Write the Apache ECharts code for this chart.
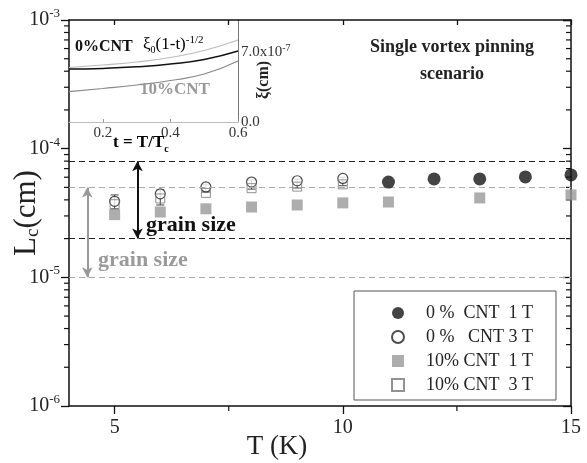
<!DOCTYPE html>
<html>
<head>
<meta charset="utf-8">
<script src="https://cdn.jsdelivr.net/npm/echarts@6/dist/echarts.min.js"></script>
<style>
  html, body { margin: 0; padding: 0; background: #fff; }
  #chart { width: 587px; height: 463px; }
</style>
</head>
<body>
<div id="chart"></div>
<script>
// main panel: Lc (cm) against T (K)
var tFilledCircle = [11, 12, 13, 14, 15];
var lcFilledCircle = [5.5e-5, 5.82e-5, 5.82e-5, 6.03e-5, 6.25e-5];
var tOpenCircle = [5, 6, 7, 8, 9, 10];
var lcOpenCircle = [3.9e-5, 4.45e-5, 5.04e-5, 5.5e-5, 5.63e-5, 5.87e-5];
var errLow = [3.4e-5, 3.65e-5, 4.6e-5, 4.85e-5, 4.95e-5, 5.15e-5];
var errHigh = [4.37e-5, 4.78e-5, 5.3e-5, 5.7e-5, 5.8e-5, 6.0e-5];
var tGreySquare = [5, 6, 7, 8, 9, 10, 11, 13, 15];
var lcGreySquare = [3.07e-5, 3.22e-5, 3.41e-5, 3.52e-5, 3.65e-5, 3.79e-5, 3.85e-5, 4.14e-5, 4.37e-5];
var tOpenSquare = [5, 6, 7, 8, 9, 10];
var lcOpenSquare = [3.7e-5, 4.1e-5, 4.53e-5, 4.93e-5, 5.07e-5, 5.28e-5];
var seriesNames = ['0 %  CNT  1 T', '0 %   CNT 3 T', '10% CNT  1 T', '10% CNT  3 T'];

// grain size bands (upper, lower)
var grain0 = [8e-5, 2e-5];
var grain10 = [5e-5, 1e-5];
var arrowT = [5.5, 4.4];

// ticks
var xLabels = [5, 10, 15];
var xTopTicks = [5, 7.5, 10, 12.5, 15];
var xMinorTicks = [7.5, 12.5];
var decades = [1e-6, 1e-5, 1e-4];
var mantissas = [2, 3, 4, 5, 6, 7, 8, 9];

// inset: xi (cm) against t = T/Tc
var insetT = [0.1, 0.2, 0.3, 0.4, 0.5, 0.6];
var xi0 = [5.3e-7, 5.36e-7, 5.52e-7, 5.8e-7, 6.25e-7, 7.1e-7];
var xi10 = [3.03e-7, 3.35e-7, 3.7e-7, 4.15e-7, 4.8e-7, 6.1e-7];
var xiFit = [5.45e-7, 5.7e-7, 6.0e-7, 6.45e-7, 7.15e-7, 8.2e-7];
var insetXLabels = [0.2, 0.4, 0.6];

var serif = "'Liberation Serif', 'DejaVu Serif', serif";

function zip(a, b) {
  return a.map(function (v, i) { return [v, b[i]]; });
}

var yMinorTicks = [];
decades.forEach(function (d) {
  mantissas.forEach(function (m) { yMinorTicks.push(m * d); });
});

function hLine(v, color) {
  return [
    { coord: [4, v], lineStyle: { color: color, type: [6, 4], width: 1.2 } },
    { coord: [15, v] }
  ];
}

function arrow(t, top, bottom, color) {
  return [
    { coord: [t, top], symbol: 'arrow', lineStyle: { color: color, type: 'solid', width: 2 }, itemStyle: { color: color } },
    { coord: [t, bottom], symbol: 'arrow' }
  ];
}

var myChart = echarts.init(document.getElementById('chart'));
var option = {
  animation: false,
  backgroundColor: '#fff',
  grid: [
    { left: 69, right: 16, top: 20, bottom: 57, outerBoundsMode: 'none', containLabel: false },
    { left: 69, top: 20, width: 169, height: 102, outerBoundsMode: 'none', containLabel: false }
  ],
  legend: {
    orient: 'vertical',
    left: 354,
    top: 291,
    data: seriesNames,
    selectedMode: false,
    itemWidth: 12,
    itemHeight: 12,
    itemGap: 6,
    padding: [13, 23, 6, 37],
    borderColor: '#555',
    borderWidth: 1,
    textStyle: {
      fontFamily: serif,
      fontSize: 18,
      lineHeight: 18,
      color: '#222',
      padding: [0, 0, 0, 17]
    }
  },
  xAxis: [
    {
      type: 'value',
      gridIndex: 0,
      min: 4,
      max: 15,
      name: 'T (K)',
      nameLocation: 'middle',
      nameGap: 27,
      nameMoveOverlap: false,
      nameTextStyle: { fontFamily: serif, fontSize: 27, color: '#222', padding: [0, 86, 0, 0] },
      axisLine: { lineStyle: { color: '#111', width: 1.5 } },
      axisTick: { customValues: xLabels, length: 8, lineStyle: { color: '#111', width: 1.3 } },
      axisLabel: { customValues: xLabels, fontFamily: serif, fontSize: 20, color: '#222', margin: 12 },
      splitLine: { show: false }
    },
    {
      type: 'value',
      gridIndex: 0,
      position: 'top',
      min: 4,
      max: 15,
      axisLine: { lineStyle: { color: '#111', width: 1.5 } },
      axisTick: { customValues: xTopTicks, inside: true, length: 5, lineStyle: { color: '#111', width: 1.3 } },
      axisLabel: { show: false },
      splitLine: { show: false }
    },
    {
      type: 'value',
      gridIndex: 1,
      min: 0.1,
      max: 0.6,
      axisLine: { lineStyle: { color: '#bbb', width: 1 } },
      axisTick: { customValues: insetXLabels, inside: true, length: 3, lineStyle: { color: '#999' } },
      axisLabel: {
        customValues: insetXLabels,
        fontFamily: serif,
        fontSize: 15,
        color: '#333',
        margin: 4,
        formatter: function (v) { return v.toFixed(1); }
      },
      splitLine: { show: false }
    }
  ],
  yAxis: [
    {
      type: 'log',
      logBase: 10,
      gridIndex: 0,
      min: 1e-6,
      max: 1e-3,
      name: 'L{sub|c}(cm)',
      nameLocation: 'middle',
      nameGap: 26,
      nameMoveOverlap: false,
      nameTextStyle: {
        fontFamily: serif,
        fontSize: 31,
        lineHeight: 32,
        color: '#222',
        rich: { sub: { fontFamily: serif, fontSize: 19, lineHeight: 19, verticalAlign: 'bottom', color: '#222' } }
      },
      axisLine: { lineStyle: { color: '#111', width: 1.5 } },
      axisTick: { length: 8, lineStyle: { color: '#111', width: 1.3 } },
      axisLabel: {
        margin: 9,
        formatter: function (v) {
          return '{b|10}{s|' + Math.round(Math.log10(v)) + '}';
        },
        rich: {
          b: { fontFamily: serif, fontSize: 20, lineHeight: 26, color: '#222' },
          s: { fontFamily: serif, fontSize: 13, lineHeight: 13, verticalAlign: 'top', color: '#222' }
        }
      },
      splitLine: { show: false }
    },
    {
      type: 'log',
      logBase: 10,
      gridIndex: 0,
      position: 'right',
      min: 1e-6,
      max: 1e-3,
      axisLine: { lineStyle: { color: '#111', width: 1.5 } },
      axisTick: { inside: true, length: 8, lineStyle: { color: '#111', width: 1.3 } },
      axisLabel: { show: false },
      splitLine: { show: false }
    },
    {
      type: 'value',
      gridIndex: 1,
      position: 'right',
      min: 0,
      max: 1.02e-6,
      interval: 7e-7,
      axisLine: { show: true, lineStyle: { color: '#777', width: 1 } },
      axisTick: { show: false },
      axisLabel: {
        fontFamily: serif,
        fontSize: 15,
        color: '#333',
        margin: 3,
        showMaxLabel: false,
        formatter: function (v) {
          if (v < 1e-9) return '{b|0.0}';
          if (Math.abs(v - 7e-7) < 1e-9) return '{b|7.0x10}{s|-7}';
          return '';
        },
        rich: {
          b: { fontFamily: serif, fontSize: 15, lineHeight: 18, color: '#333' },
          s: { fontFamily: serif, fontSize: 10, lineHeight: 10, verticalAlign: 'top', color: '#333' }
        }
      },
      splitLine: { show: false }
    }
  ],
  graphic: [
    {
      type: 'text', z: 100, x: 452, y: 61,
      style: {
        text: 'Single vortex pinning\nscenario',
        align: 'center', verticalAlign: 'middle',
        font: 'bold 18px ' + serif, lineHeight: 27, fill: '#222'
      }
    },
    {
      type: 'text', z: 100, x: 146, y: 225,
      style: { text: 'grain size', verticalAlign: 'middle', font: 'bold 22px ' + serif, fill: '#111' }
    },
    {
      type: 'text', z: 100, x: 98, y: 260,
      style: { text: 'grain size', verticalAlign: 'middle', font: 'bold 22px ' + serif, fill: '#9a9a9a' }
    },
    {
      type: 'text', z: 100, x: 75, y: 47,
      style: { text: '0%CNT', verticalAlign: 'middle', font: 'bold 16px ' + serif, fill: '#111' }
    },
    {
      type: 'text', z: 100, x: 143, y: 45,
      style: {
        text: '{a|\u03be}{b|0}{a|(1-t)}{c|-1/2}',
        verticalAlign: 'middle',
        rich: {
          a: { fontFamily: serif, fontSize: 17, lineHeight: 20, color: '#aaa' },
          b: { fontFamily: serif, fontSize: 10, lineHeight: 10, verticalAlign: 'bottom', color: '#aaa' },
          c: { fontFamily: serif, fontSize: 11, lineHeight: 11, verticalAlign: 'top', color: '#aaa' }
        }
      }
    },
    {
      type: 'text', z: 100, x: 140, y: 90,
      style: { text: '10%CNT', verticalAlign: 'middle', font: 'bold 17px ' + serif, fill: '#999' }
    },
    {
      type: 'text', z: 100, x: 113, y: 143,
      style: {
        text: '{a|t = T/T}{b|c}',
        verticalAlign: 'middle',
        rich: {
          a: { fontFamily: serif, fontWeight: 'bold', fontSize: 17, lineHeight: 22, color: '#111' },
          b: { fontFamily: serif, fontWeight: 'bold', fontSize: 10, lineHeight: 10, verticalAlign: 'bottom', color: '#111' }
        }
      }
    },
    {
      type: 'text', z: 100, x: 264, y: 80, rotation: Math.PI / 2,
      style: { text: '\u03be(cm)', align: 'center', verticalAlign: 'middle', font: 'bold 16px ' + serif, fill: '#222' }
    }
  ],
  series: [
    {
      name: 'minorY',
      type: 'custom',
      xAxisIndex: 0,
      yAxisIndex: 0,
      silent: true,
      z: 1,
      data: yMinorTicks.map(function (v) { return [4, v]; }),
      renderItem: function (params, api) {
        var l = api.coord([4, api.value(1)]);
        var r = api.coord([15, api.value(1)]);
        var st = { stroke: '#111', lineWidth: 1.2 };
        return {
          type: 'group',
          children: [
            { type: 'line', shape: { x1: l[0] - 5, y1: l[1], x2: l[0], y2: l[1] }, style: st },
            { type: 'line', shape: { x1: r[0] - 5, y1: r[1], x2: r[0], y2: r[1] }, style: st }
          ]
        };
      }
    },
    {
      name: 'minorX',
      type: 'custom',
      xAxisIndex: 0,
      yAxisIndex: 0,
      silent: true,
      z: 1,
      data: xMinorTicks.map(function (t) { return [t, 1e-6]; }),
      renderItem: function (params, api) {
        var p = api.coord([api.value(0), 1e-6]);
        return {
          type: 'line',
          shape: { x1: p[0], y1: p[1], x2: p[0], y2: p[1] + 5 },
          style: { stroke: '#111', lineWidth: 1.2 }
        };
      }
    },
    {
      name: 'errorBars',
      type: 'custom',
      xAxisIndex: 0,
      yAxisIndex: 0,
      silent: true,
      z: 2,
      encode: { x: 0, y: [1, 2] },
      data: tOpenCircle.map(function (t, i) { return [t, errLow[i], errHigh[i]]; }),
      renderItem: function (params, api) {
        var lo = api.coord([api.value(0), api.value(1)]);
        var hi = api.coord([api.value(0), api.value(2)]);
        var st = { stroke: '#444', lineWidth: 1 };
        return {
          type: 'group',
          children: [
            { type: 'line', shape: { x1: lo[0], y1: lo[1], x2: hi[0], y2: hi[1] }, style: st },
            { type: 'line', shape: { x1: lo[0] - 4, y1: lo[1], x2: lo[0] + 4, y2: lo[1] }, style: st },
            { type: 'line', shape: { x1: hi[0] - 4, y1: hi[1], x2: hi[0] + 4, y2: hi[1] }, style: st }
          ]
        };
      }
    },
    {
      name: seriesNames[2],
      type: 'scatter',
      xAxisIndex: 0,
      yAxisIndex: 0,
      symbol: 'rect',
      symbolSize: 11,
      itemStyle: { color: '#999' },
      z: 3,
      data: zip(tGreySquare, lcGreySquare),
      markLine: {
        silent: true,
        symbol: 'none',
        symbolSize: [8, 10],
        label: { show: false },
        data: [
          hLine(grain0[0], '#222'),
          hLine(grain0[1], '#222'),
          hLine(grain10[0], '#aaa'),
          hLine(grain10[1], '#aaa'),
          arrow(arrowT[0], grain0[0], grain0[1], '#111'),
          arrow(arrowT[1], grain10[0], grain10[1], '#999')
        ]
      }
    },
    {
      name: seriesNames[1],
      type: 'scatter',
      xAxisIndex: 0,
      yAxisIndex: 0,
      symbol: 'circle',
      symbolSize: 10,
      itemStyle: { color: '#fff', borderColor: '#222', borderWidth: 1.2 },
      z: 4,
      data: zip(tOpenCircle, lcOpenCircle)
    },
    {
      name: seriesNames[3],
      type: 'scatter',
      xAxisIndex: 0,
      yAxisIndex: 0,
      symbol: 'rect',
      symbolSize: 9,
      itemStyle: { color: 'rgba(255,255,255,0)', borderColor: '#777', borderWidth: 1 },
      z: 5,
      data: zip(tOpenSquare, lcOpenSquare)
    },
    {
      name: seriesNames[0],
      type: 'scatter',
      xAxisIndex: 0,
      yAxisIndex: 0,
      symbol: 'circle',
      symbolSize: 13,
      itemStyle: { color: '#151515' },
      z: 6,
      data: zip(tFilledCircle, lcFilledCircle)
    },
    {
      name: 'xiFit',
      type: 'line',
      xAxisIndex: 2,
      yAxisIndex: 2,
      smooth: true,
      showSymbol: false,
      silent: true,
      lineStyle: { color: '#bbb', width: 1.2 },
      data: zip(insetT, xiFit)
    },
    {
      name: 'xi0',
      type: 'line',
      xAxisIndex: 2,
      yAxisIndex: 2,
      smooth: true,
      showSymbol: false,
      silent: true,
      lineStyle: { color: '#111', width: 1.5 },
      data: zip(insetT, xi0)
    },
    {
      name: 'xi10',
      type: 'line',
      xAxisIndex: 2,
      yAxisIndex: 2,
      smooth: true,
      showSymbol: false,
      silent: true,
      lineStyle: { color: '#888', width: 1.2 },
      data: zip(insetT, xi10)
    }
  ]
};
myChart.setOption(option, true);
window.addEventListener('resize', function () {
  myChart.resize();
});
</script>
</body>
</html>
